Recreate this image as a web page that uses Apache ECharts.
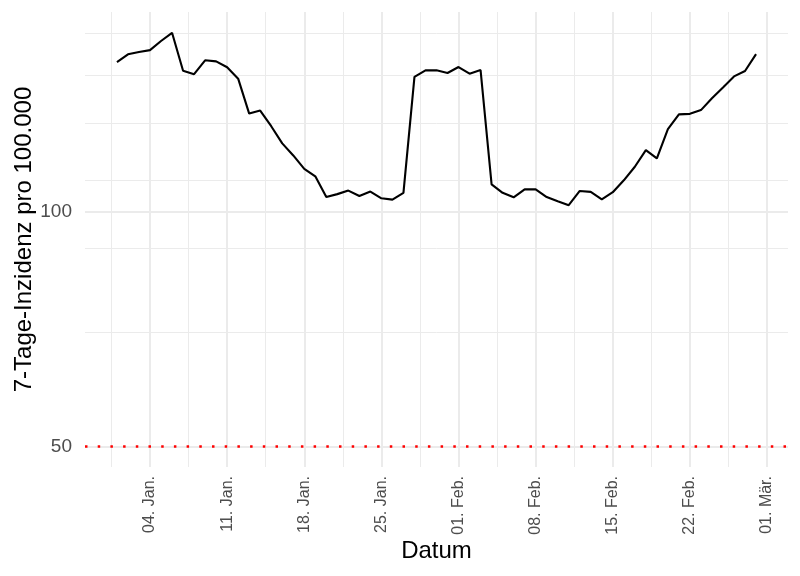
<!DOCTYPE html>
<html><head><meta charset="utf-8">
<script src="https://cdn.jsdelivr.net/npm/echarts@6/dist/echarts.min.js"></script>
<style>html,body{margin:0;padding:0;background:#fff}#c{width:800px;height:576px}</style>
</head><body><div id="c"></div>
<script>
const dates = [
 '2021-01-01','2021-01-02','2021-01-03','2021-01-04','2021-01-05','2021-01-06','2021-01-07',
 '2021-01-08','2021-01-09','2021-01-10','2021-01-11','2021-01-12','2021-01-13','2021-01-14',
 '2021-01-15','2021-01-16','2021-01-17','2021-01-18','2021-01-19','2021-01-20','2021-01-21',
 '2021-01-22','2021-01-23','2021-01-24','2021-01-25','2021-01-26','2021-01-27','2021-01-28',
 '2021-01-29','2021-01-30','2021-01-31','2021-02-01','2021-02-02','2021-02-03','2021-02-04',
 '2021-02-05','2021-02-06','2021-02-07','2021-02-08','2021-02-09','2021-02-10','2021-02-11',
 '2021-02-12','2021-02-13','2021-02-14','2021-02-15','2021-02-16','2021-02-17','2021-02-18',
 '2021-02-19','2021-02-20','2021-02-21','2021-02-22','2021-02-23','2021-02-24','2021-02-25',
 '2021-02-26','2021-02-27','2021-02-28'
];
const incidence = [
 156.0,159.6,160.7,161.6,166.0,170.1,152.0,
 150.5,156.8,156.3,153.6,148.5,133.9,135.1,
 129.0,122.6,118.3,113.7,111.2,104.6,105.5,
 106.6,104.9,106.3,104.2,103.8,105.9,149.3,
 152.2,152.2,151.0,153.7,150.7,152.3,108.6,
 105.9,104.5,107.0,107.0,104.6,103.3,102.1,
 106.5,106.2,103.9,106.1,109.9,114.4,120.2,
 117.3,127.9,133.6,133.8,135.3,140.1,144.7,
 149.5,151.9,159.7
];
const xTickDates = ['2021-01-04','2021-01-11','2021-01-18','2021-01-25','2021-02-01','2021-02-08','2021-02-15','2021-02-22','2021-03-01'];
const xTickLabels = ['04. Jan.','11. Jan.','18. Jan.','25. Jan.','01. Feb.','08. Feb.','15. Feb.','22. Feb.','01. Mär.'];
const xMinorDates = ['2020-12-31T12','2021-01-07T12','2021-01-14T12','2021-01-21T12','2021-01-28T12','2021-02-04T12','2021-02-11T12','2021-02-18T12','2021-02-25T12'];
const yTicks = [50, 100];
const yMinorTicks = [70, 90, 110, 130, 150, 170];
const threshold = 50;
const xTitle = 'Datum';
const yTitle = '7-Tage-Inzidenz pro 100.000';

function ts(s) {
  const parts = s.split('T');
  const ymd = parts[0].split('-').map(Number);
  const h = parts[1] ? Number(parts[1]) : 0;
  return Date.UTC(ymd[0], ymd[1] - 1, ymd[2], h);
}
const DAY = 864e5;
const xMin = ts(dates[0]) - 2.9 * DAY;
const xMax = ts(dates[dates.length - 1]) + 2.9 * DAY;
const FONT = '"Liberation Sans", Arial, sans-serif';
const majorTs = xTickDates.map(ts);

const chart = echarts.init(document.getElementById('c'), null, {renderer: 'canvas'});
chart.setOption({
  animation: false,
  backgroundColor: '#fff',
  grid: {left: 85, right: 12, top: 12, bottom: 109, containLabel: false, outerBoundsMode: 'none'},
  xAxis: [{
    type: 'value', min: xMin, max: xMax, scale: true,
    axisLine: {show: false},
    axisTick: {show: false, customValues: majorTs},
    axisLabel: {
      customValues: majorTs, rotate: 90, fontSize: 16, color: '#4d4d4d', fontFamily: FONT, margin: 9,
      formatter: function (v) {
        for (let i = 0; i < majorTs.length; i++) if (Math.abs(majorTs[i] - v) < 3600e3) return xTickLabels[i];
        return '';
      }
    },
    splitLine: {show: true, lineStyle: {color: '#ebebeb', width: 2}},
    name: xTitle, nameLocation: 'middle', nameGap: 72, nameMoveOverlap: false,
    nameTextStyle: {fontSize: 24, color: '#000', fontFamily: FONT}
  }, {
    type: 'value', min: xMin, max: xMax, scale: true, position: 'bottom',
    axisLine: {show: false},
    axisTick: {show: false, customValues: xMinorDates.map(ts)},
    axisLabel: {show: false},
    splitLine: {show: true, lineStyle: {color: '#ebebeb', width: 1}}
  }],
  yAxis: [{
    type: 'log', min: 47.03, max: 180.9,
    axisLine: {show: false},
    axisTick: {show: false, customValues: yTicks},
    axisLabel: {customValues: yTicks, fontSize: 19, color: '#4d4d4d', fontFamily: FONT, margin: 13},
    splitLine: {show: true, lineStyle: {color: '#ebebeb', width: 2}},
    name: yTitle, nameLocation: 'middle', nameGap: 49, nameMoveOverlap: false,
    nameTextStyle: {fontSize: 24, color: '#000', fontFamily: FONT}
  }, {
    type: 'log', min: 47.03, max: 180.9, position: 'left',
    axisLine: {show: false},
    axisTick: {show: false, customValues: yMinorTicks},
    axisLabel: {show: false},
    splitLine: {show: true, lineStyle: {color: '#ebebeb', width: 1}}
  }],
  series: [{
    type: 'line', xAxisIndex: 0, yAxisIndex: 0,
    data: dates.map((d, i) => [ts(d), incidence[i]]),
    showSymbol: false, symbol: 'none',
    lineStyle: {color: '#000', width: 2.1},
    markLine: {
      silent: true, symbol: 'none', label: {show: false},
      lineStyle: {color: '#ff0000', type: [2.5, 10.2], width: 2.5},
      data: [{yAxis: threshold}]
    }
  }]
});
</script></body></html>
